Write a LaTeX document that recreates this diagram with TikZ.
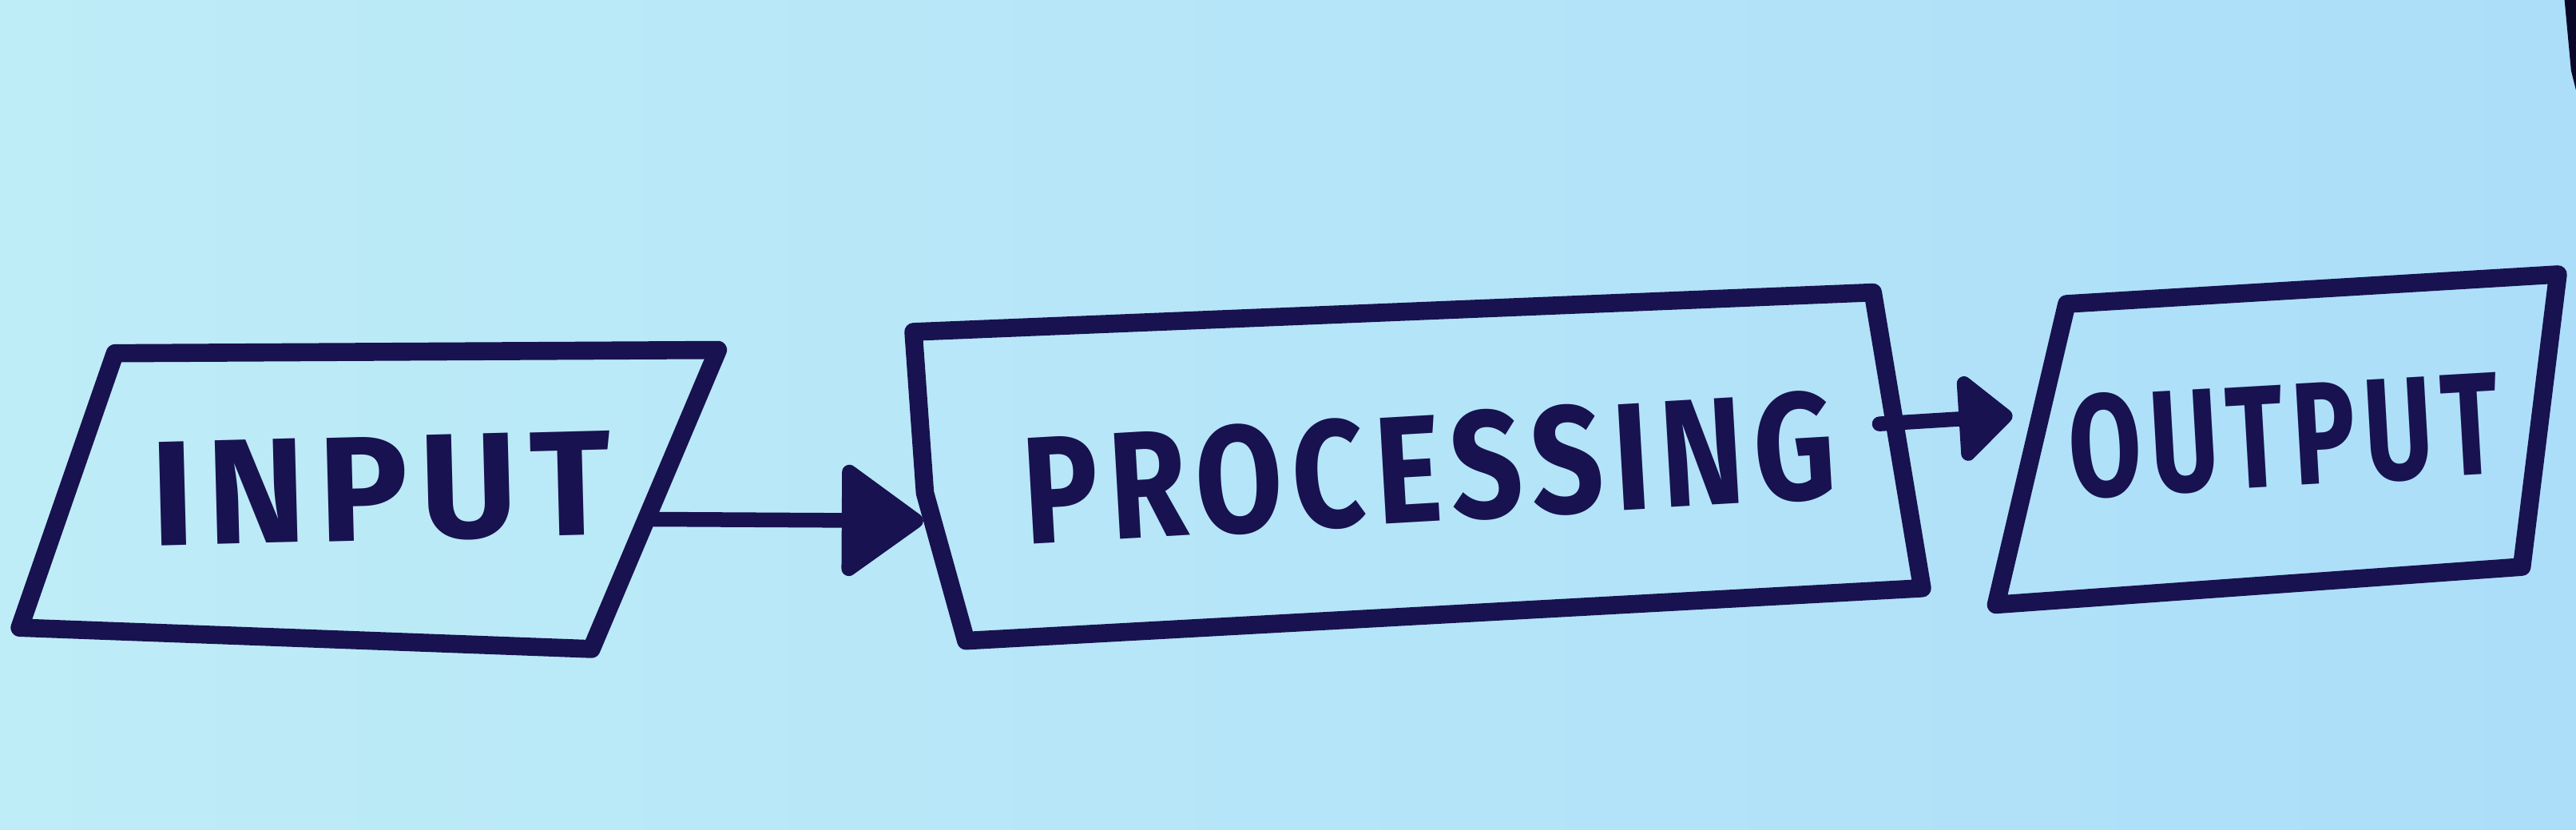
\documentclass[tikz,border=0pt]{standalone}
\usepackage{fontspec}
\setmainfont{Fira Sans}[LetterSpace=8]
\usepackage{graphicx}
\usetikzlibrary{arrows.meta}

\definecolor{ink}{RGB}{24,18,80}
\definecolor{inkhead}{RGB}{10,6,40}
\definecolor{paperL}{RGB}{190,236,247}
\definecolor{paperM}{RGB}{170,216,249}
\definecolor{paperR}{RGB}{172,222,249}

\tikzset{
  outline/.style={draw=ink, line width=1.1mm, line join=round, line cap=round},
  flow/.style={draw=ink, fill=inkhead, line width=0.9mm, line cap=round},
  boxtext/.style={text=ink, inner sep=0pt, font=\bfseries}
}
\newcommand{\handtext}[3]{\resizebox{#1}{#2}{#3}}

\begin{document}
\begin{tikzpicture}
  % Paper background
  \shade[left color=paperL, middle color=paperM, right color=paperR] (0,0) rectangle (15.68,5.05);
  \useasboundingbox (0,0) rectangle (15.68,5.05);
  % Edge of the sheet, top right
  \fill[inkhead] (15.61,5.05) -- (15.68,5.05) -- (15.68,4.50) -- (15.65,4.62) -- cycle;

  % Input parallelogram
  \draw[outline] (0.70,2.90) -- (4.37,2.92) -- (3.60,1.10) -- (0.12,1.23) -- cycle;
  \node[boxtext, rotate=1.5] (input) at (2.32,2.07) {\handtext{2.80cm}{0.63cm}{INPUT}};
  \coordinate (input out) at (3.93,1.89);

  % Processing box
  \draw[outline] (5.56,3.03) -- (11.40,3.27) -- (11.70,1.47) -- (5.88,1.15) -- (5.63,2.05) -- cycle;
  \node[boxtext, rotate=3.3] (processing) at (8.70,2.20) {\handtext{4.95cm}{0.66cm}{PROCESSING}};
  \coordinate (processing in) at (5.62,1.88);
  \coordinate (processing out) at (11.44,2.47);

  % Output parallelogram
  \draw[outline] (12.58,3.20) -- (15.57,3.38) -- (15.35,1.60) -- (12.15,1.37) -- cycle;
  \node[boxtext, rotate=3.3] (output) at (13.90,2.40) {\handtext{2.62cm}{0.63cm}{OUTPUT}};
  \coordinate (output in) at (12.25,2.52);

  % Connectors
  \draw[flow, -{Triangle[length=5.3mm,width=7.4mm,round]}] (input out) -- (processing in);
  \draw[flow, -{Triangle[length=3.5mm,width=6.0mm,round]}] (processing out) -- (output in);
\end{tikzpicture}
\end{document}
